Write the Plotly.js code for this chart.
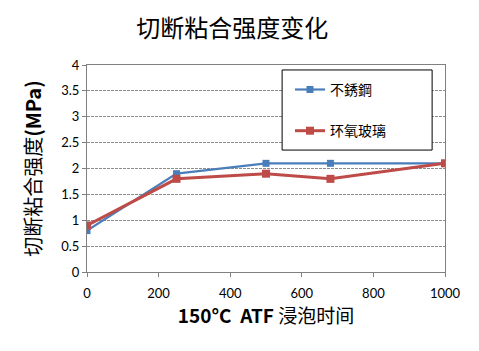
<!DOCTYPE html>
<html><head><meta charset="utf-8">
<script src="https://cdn.plot.ly/plotly-3.0.1.min.js"></script>
<style>html,body{margin:0;padding:0;background:#fff}#c{width:479px;height:351px}</style>
</head><body><div id="c"></div>
<script>
const hours = [0, 250, 500, 680, 1000];
const stainless = [0.8, 1.9, 2.1, 2.1, 2.1];
const epoxyGlass = [0.9, 1.8, 1.9, 1.8, 2.1];
const seriesNames = ['不銹鋼', '环氧玻璃'];
const xTicks = [0, 200, 400, 600, 800, 1000];
const yTicks = [0, 0.5, 1, 1.5, 2, 2.5, 3, 3.5, 4];

const cjk = '"Noto Sans CJK SC", sans-serif';
const num = 'Lato, "Noto Sans", sans-serif';

const data = [
  {x: hours, y: stainless, name: seriesNames[0], mode: 'lines+markers', legendgroup: 'a',
   line: {color: '#4a7ebb', width: 2.2}, marker: {symbol: 'square', size: 7, color: '#4a7ebb'}},
  {x: hours, y: epoxyGlass, name: seriesNames[1], mode: 'lines+markers', legendgroup: 'b',
   line: {color: '#be4b48', width: 3}, marker: {symbol: 'square', size: 8, color: '#be4b48'}}
];

const layout = {
  width: 479, height: 351,
  margin: {l: 87, r: 34, t: 65, b: 79},
  paper_bgcolor: '#fff', plot_bgcolor: '#fff',
  title: {text: '切断粘合强度变化', font: {family: cjk, size: 24, color: '#000'}, x: 0.485, xanchor: 'center', y: 0.918, yanchor: 'middle'},
  xaxis: {range: [0, 1000], tickvals: xTicks, ticktext: xTicks.map(String), showgrid: false, zeroline: false,
    showline: true, mirror: true, linecolor: '#808080', linewidth: 1, ticks: 'outside', ticklen: 4, tickcolor: '#808080',
    ticklabelstandoff: 5, tickfont: {family: num, size: 13, color: '#000'},
    title: {text: '<b>150°C  ATF</b> 浸泡时间', font: {family: cjk, size: 19, color: '#000'}, standoff: 5}},
  yaxis: {range: [0, 4], tickvals: yTicks, ticktext: yTicks.map(String), showgrid: true, gridcolor: '#8c8c8c', griddash: '3px,1px', gridwidth: 1,
    zeroline: false, showline: true, mirror: true, linecolor: '#808080', linewidth: 1, ticks: 'outside', ticklen: 4, tickcolor: '#808080',
    tickfont: {family: num, size: 13, color: '#000'},
    title: {text: '切断粘合强度<b>(MPa)</b>', font: {family: cjk, size: 20, color: '#000'}, standoff: 14}},
  showlegend: true,
  legend: {x: 0.567, y: 0.957, xanchor: 'left', yanchor: 'top', borderwidth: 0, bgcolor: 'rgba(0,0,0,0)',
    font: {family: cjk, size: 14, color: '#000'}, tracegroupgap: 20, itemwidth: 30},
  shapes: [{type: 'rect', xref: 'x domain', yref: 'y domain', x0: 0.545, x1: 0.964, y0: 0.589, y1: 0.976,
    line: {color: '#000', width: 1}, fillcolor: '#fff', layer: 'above'}],
  font: {family: cjk}
};
Plotly.newPlot('c', data, layout, {displayModeBar: false, staticPlot: true});
</script></body></html>
